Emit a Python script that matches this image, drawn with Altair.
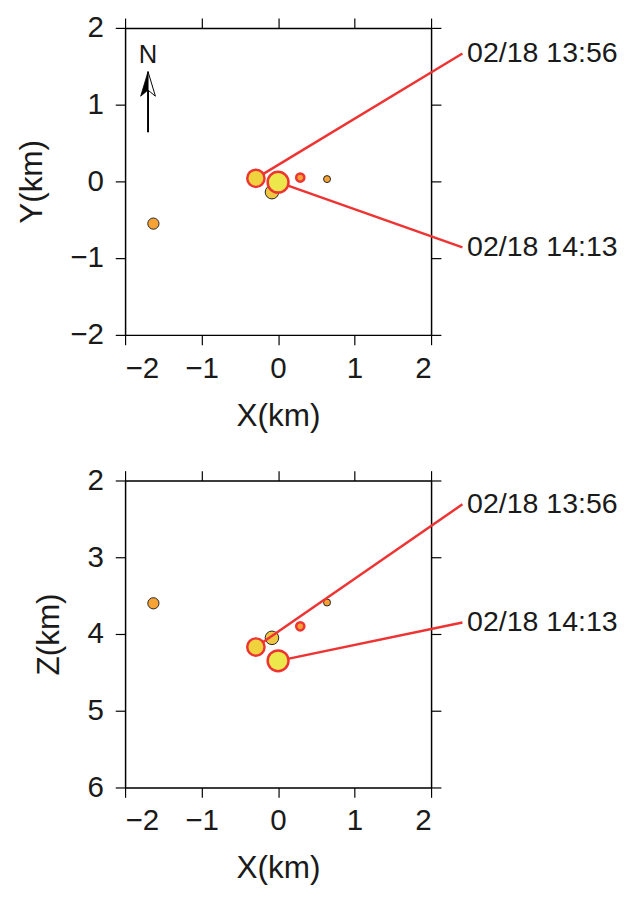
import altair as alt
import pandas as pd

# ---- data ----
event_id = ["A", "B", "C", "D", "E", "F"]
x_km = [-0.29, 0.00, -0.08, 0.29, 0.64, -1.63]
y_km = [0.04, -0.01, -0.14, 0.05, 0.03, -0.55]
z_km = [4.17, 4.35, 4.05, 3.90, 3.59, 3.60]
mag = [2.8, 3.5, 2.2, 1.6, 1.5, 1.9]
outline = ["red", "red", "black", "red", "black", "black"]
front = [True, True, False, True, False, False]

label_event = ["A", "B"]
label_text = ["02/18 13:56", "02/18 14:13"]
label_x = [2.41, 2.41]
label_y_map = [1.667, -0.86]
label_z_sec = [2.31, 3.85]

north_x = [-1.70]
north_y0 = [0.64]
north_y1 = [1.19]
north_head = [1.27]
north_text = [1.64]

fills = ["#F0D23E", "#ECE84C", "#EEC640", "#F7A235", "#F7A235", "#F7A235"]
FONT = "Liberation Sans"
RED = "#EE3333"

ev = pd.DataFrame({"id": event_id, "x": x_km, "y": y_km, "z": z_km,
                   "mag": mag, "outline": outline, "front": front})
lab = pd.DataFrame({"id": label_event, "text": label_text, "lx": label_x,
                    "ly": label_y_map, "lz": label_z_sec})
lab = lab.merge(ev[["id", "x", "y", "z"]], on="id")
lab["tx"] = lab["lx"] + 0.06
north = pd.DataFrame({"x": north_x, "y0": north_y0, "y1": north_y1,
                      "yh": north_head, "yt": north_text, "t": ["N"]})

xs = alt.Scale(domain=[-2, 2], nice=False, zero=False)
tick_vals = [-2, -1, 0, 1, 2]

common_ax = dict(tickSize=10, tickWidth=1.2, tickColor="black", domainColor="black",
                 domainWidth=1.5, grid=False, labelFont=FONT, labelFontSize=30,
                 labelColor="#1a1a1a", titleFont=FONT, titleFontSize=32,
                 titleFontWeight="normal", titleColor="#1a1a1a")


def panel(ycol, ys, yvals, ytitle, lycol):
    bottom_ax = alt.Axis(orient="bottom", values=tick_vals, title="X(km)",
                         labelPadding=9, titlePadding=18, **common_ax)
    left_ax = alt.Axis(orient="left", values=yvals, title=ytitle,
                       labelPadding=12, titlePadding=22, **common_ax)
    top_ax = alt.Axis(orient="top", values=tick_vals, labels=False, title=None, **common_ax)
    right_ax = alt.Axis(orient="right", values=yvals, labels=False, title=None, **common_ax)

    def pts(df, xa, ya):
        return alt.Chart(df).mark_circle(opacity=1, strokeOpacity=1).encode(
            x=alt.X("x:Q", scale=xs, axis=xa),
            y=alt.Y(f"{ycol}:Q", scale=ys, axis=ya),
            size=alt.Size("mag:Q", scale=alt.Scale(domain=[1.5, 3.5], range=[50, 450]), legend=None),
            fill=alt.Fill("id:N", scale=alt.Scale(domain=event_id, range=fills), legend=None),
            stroke=alt.Stroke("outline:N", scale=alt.Scale(domain=["red", "black"], range=[RED, "#222222"]), legend=None),
            strokeWidth=alt.StrokeWidth("outline:N", scale=alt.Scale(domain=["red", "black"], range=[2.5, 1.0]), legend=None),
        )

    back = pts(ev[~ev["front"]], bottom_ax, left_ax)
    fore = pts(ev[ev["front"]], None, None)

    rules = alt.Chart(lab).mark_rule(color=RED, strokeWidth=2.5).encode(
        x=alt.X("x:Q", scale=xs, axis=top_ax),
        y=alt.Y(f"{ycol}:Q", scale=ys, axis=right_ax),
        x2="lx:Q", y2=f"{lycol}:Q",
    )
    texts = alt.Chart(lab).mark_text(align="left", baseline="middle", font=FONT,
                                     fontSize=29, color="#1a1a1a").encode(
        x=alt.X("tx:Q", scale=xs, axis=None),
        y=alt.Y(f"{lycol}:Q", scale=ys, axis=None),
        text="text:N",
    )
    layers = [back, rules, fore, texts]
    if ycol == "y":
        shaft = alt.Chart(north).mark_rule(color="black", strokeWidth=2).encode(
            x=alt.X("x:Q", scale=xs, axis=None),
            y=alt.Y("y0:Q", scale=ys, axis=None), y2="y1:Q")
        head_l = alt.Chart(north).mark_point(shape="M0,-1L-0.6,1L0,0.5Z", filled=True,
                                             fill="black", stroke="black", strokeWidth=0.8,
                                             size=625, opacity=1).encode(
            x=alt.X("x:Q", scale=xs, axis=None), y=alt.Y("yh:Q", scale=ys, axis=None))
        head_r = alt.Chart(north).mark_point(shape="M0,-1L0.6,1L0,0.5Z", filled=True,
                                             fill="white", stroke="black", strokeWidth=1,
                                             size=625, opacity=1).encode(
            x=alt.X("x:Q", scale=xs, axis=None), y=alt.Y("yh:Q", scale=ys, axis=None))
        ntext = alt.Chart(north).mark_text(font=FONT, fontSize=26, color="#1a1a1a",
                                           baseline="middle", align="center").encode(
            x=alt.X("x:Q", scale=xs, axis=None), y=alt.Y("yt:Q", scale=ys, axis=None),
            text="t:N")
        layers += [shaft, head_l, head_r, ntext]
    return alt.layer(*layers).resolve_axis(x="independent", y="independent").properties(
        width=311, height=312)


top = panel("y", alt.Scale(domain=[-2, 2], nice=False, zero=False), tick_vals, "Y(km)", "ly")
bottom = panel("z", alt.Scale(domain=[2, 6], nice=False, zero=False, reverse=True),
               [2, 3, 4, 5, 6], "Z(km)", "lz")

chart = alt.vconcat(top, bottom, spacing=33).properties(
    padding={"top": -3, "left": 7, "right": 0, "bottom": 0}
).configure_view(stroke="black", strokeWidth=1.5).configure(background="white")

chart.save("out.html", embed_options={"renderer": "svg", "actions": False})
